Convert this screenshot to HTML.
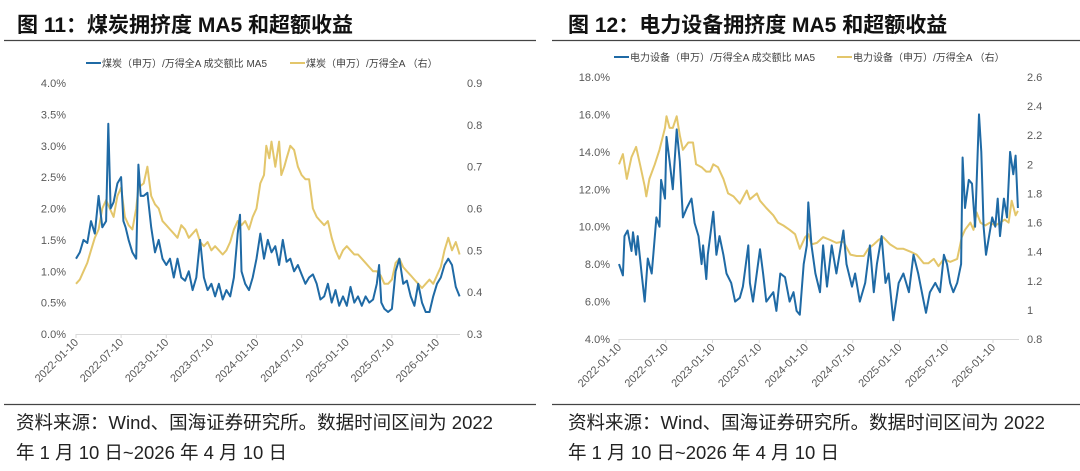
<!DOCTYPE html>
<html><head><meta charset="utf-8">
<style>
body{margin:0;width:1080px;height:471px;background:#fff;overflow:hidden;font-family:"Liberation Sans","Noto Sans CJK SC",sans-serif;}
svg{position:absolute;left:0;top:0;}
</style></head>
<body>
<svg id="svg" width="1080" height="471" viewBox="0 0 1080 471" xmlns="http://www.w3.org/2000/svg">
<text x="17" y="32" font-size="21" font-weight="bold" fill="#111" font-family="Liberation Sans, Noto Sans CJK SC, sans-serif">图 11：煤炭拥挤度 MA5 和超额收益</text>
<text x="568" y="32" font-size="21" font-weight="bold" fill="#111" font-family="Liberation Sans, Noto Sans CJK SC, sans-serif">图 12：电力设备拥挤度 MA5 和超额收益</text>
<line x1="4" y1="40.5" x2="536" y2="40.5" stroke="#444" stroke-width="1.2"/>
<line x1="552" y1="40.5" x2="1080" y2="40.5" stroke="#444" stroke-width="1.2"/>
<line x1="4" y1="404.5" x2="536" y2="404.5" stroke="#444" stroke-width="1.2"/>
<line x1="552" y1="404.5" x2="1080" y2="404.5" stroke="#444" stroke-width="1.2"/>
<g font-size="18.5" fill="#222" font-family="Liberation Sans, Noto Sans CJK SC, sans-serif">
<text x="16" y="429">资料来源：Wind、国海证券研究所。数据时间区间为 2022</text>
<text x="16" y="459">年 1 月 10 日~2026 年 4 月 10 日</text>
<text x="568" y="429">资料来源：Wind、国海证券研究所。数据时间区间为 2022</text>
<text x="568" y="459">年 1 月 10 日~2026 年 4 月 10 日</text>
</g>
<g id="left-chart"></g>
<g id="right-chart"></g>
</svg>
<script>
// shared x tick labels (month offsets from 2022-01-10)
const xTickLabels = ["2022-01-10","2022-07-10","2023-01-10","2023-07-10","2024-01-10","2024-07-10","2025-01-10","2025-07-10","2026-01-10"];
const xTickMonths = [0,6,12,18,24,30,36,42,48];

// Left chart: coal
const coalLeftTicks = [0,0.5,1,1.5,2,2.5,3,3.5,4];
const coalRightTicks = [0.3,0.4,0.5,0.6,0.7,0.8,0.9];
const coalCrowdMonths = [0,0.5,1,1.5,2,2.5,3,3.5,4,4.3,4.6,5,5.5,6,6.3,6.6,7,7.5,8,8.3,8.6,9,9.5,10,10.5,11,11.5,12,12.5,13,13.5,14,14.5,15,15.5,16,16.5,17,17.5,18,18.5,19,19.5,20,20.5,21,21.5,21.8,22,22.5,23,23.5,24,24.5,25,25.5,26,26.5,27,27.5,28,28.5,29,29.5,30,30.5,31,31.5,32,32.5,33,33.5,34,34.5,35,35.5,36,36.5,37,37.5,38,38.5,39,39.5,40,40.3,40.6,41,41.5,42,42.5,43,43.5,44,44.5,45,45.5,46,46.5,47,47.5,48,48.5,49,49.5,50,50.5,51];
const coalCrowd = [1.2,1.3,1.5,1.45,1.8,1.6,2.2,1.7,1.8,3.35,2.0,2.1,2.4,2.5,1.8,1.7,1.5,1.3,1.2,2.7,2.2,2.2,2.25,1.7,1.3,1.5,1.2,1.1,1.2,0.9,1.2,0.9,0.85,1.0,0.7,0.9,1.5,0.9,0.7,0.8,0.6,0.8,0.55,0.7,0.6,0.9,1.6,1.9,1.0,0.8,0.7,0.9,1.2,1.6,1.2,1.5,1.3,1.4,1.1,1.5,1.15,1.2,1.0,1.1,0.95,0.8,0.9,0.95,0.8,0.55,0.6,0.8,0.5,0.7,0.45,0.6,0.45,0.75,0.5,0.6,0.45,0.6,0.5,0.55,0.8,1.1,0.5,0.4,0.35,0.4,1.0,1.2,0.8,0.85,0.6,0.45,0.8,0.5,0.35,0.35,0.6,0.8,0.9,1.1,1.2,1.1,0.75,0.6];
const coalRelMonths = [0,0.5,1,1.5,2,2.5,3,3.5,4,4.5,5,5.5,6,6.5,7,7.5,8,8.3,9,9.5,10,10.5,11,11.5,12,12.5,13,13.5,14,14.5,15,15.5,16,16.5,17,17.5,18,18.5,19,19.5,20,20.5,21,21.5,22,22.5,23,23.5,24,24.5,25,25.3,25.7,26,26.5,27,27.3,27.7,28,28.5,29,29.5,30,30.5,31,31.5,32,32.5,33,33.5,34,34.5,35,35.5,36,36.5,37,37.5,38,38.5,39,39.5,40,40.5,41,41.5,42,42.5,43,43.5,44,44.5,45,45.5,46,46.5,47,47.5,48,48.5,49,49.5,50,50.5,51];
const coalRel = [0.42,0.43,0.45,0.47,0.5,0.53,0.55,0.6,0.62,0.6,0.58,0.63,0.65,0.58,0.56,0.55,0.6,0.65,0.66,0.7,0.63,0.61,0.6,0.57,0.56,0.55,0.54,0.53,0.56,0.55,0.53,0.54,0.55,0.52,0.51,0.52,0.5,0.51,0.5,0.49,0.5,0.52,0.55,0.57,0.56,0.57,0.55,0.58,0.6,0.66,0.68,0.75,0.72,0.76,0.7,0.76,0.68,0.7,0.72,0.75,0.74,0.7,0.68,0.67,0.67,0.6,0.58,0.57,0.56,0.57,0.53,0.5,0.48,0.5,0.51,0.5,0.49,0.49,0.48,0.47,0.46,0.45,0.45,0.44,0.42,0.42,0.43,0.47,0.48,0.46,0.45,0.44,0.43,0.42,0.41,0.42,0.43,0.42,0.44,0.46,0.5,0.53,0.5,0.52,0.49];

// Right chart: power equipment
const peLeftTicks = [4,6,8,10,12,14,16,18];
const peRightTicks = [0.8,1,1.2,1.4,1.6,1.8,2,2.2,2.4,2.6];
const peCrowdMonths = [0,0.5,0.7,1.1,1.6,1.8,2.2,2.4,2.9,3.3,3.7,4.2,4.4,4.8,5.2,5.4,5.9,6.1,6.5,6.9,7.4,7.8,8.2,8.7,9.3,9.7,10.2,10.6,10.8,11.2,11.4,12.1,12.5,12.9,13.4,13.8,14.4,14.9,15.5,15.9,16.6,16.8,17.2,18.1,18.5,18.9,19.8,20.2,20.7,21.3,21.9,22.4,22.8,23.2,23.7,24.1,24.3,24.7,25.2,25.8,26.2,26.7,27.3,27.9,28.8,29.2,29.9,30.3,30.9,31.6,32.2,32.7,33.1,33.7,34.2,34.6,35.2,35.9,36.5,37.2,37.8,38.4,39.1,39.4,39.9,40.6,41.2,41.7,42.1,42.5,42.9,43.4,43.9,44.1,44.4,44.9,45.3,45.7,46.2,46.5,46.8,47.1,47.5,47.9,48.3,48.6,48.9,49.4,49.8,50.2,50.6,50.9,51.2];
const peCrowd = [8,7.4,9.5,9.8,8.7,9.7,8.5,9.5,7.5,6.0,8.3,7.5,8.5,10.5,10.0,12.5,11.5,14.8,13.5,12.0,15.2,13.5,10.5,11.0,11.5,10.2,9.5,8.0,9.0,7.2,8.5,10.8,8.5,9.5,8.5,7.5,7.0,6.0,6.2,6.8,9.0,7.0,6.0,8.8,7.5,6.0,6.5,5.5,7.5,7.3,6.0,6.5,5.5,5.3,8.0,9.0,11.3,9.0,7.5,6.5,9.0,6.8,9.0,7.5,9.8,8.0,6.8,7.5,6.0,7.0,9.0,6.5,8.0,9.5,7.0,7.5,5.0,7.0,7.5,6.5,8.5,7.5,6.0,5.4,6.5,7.0,6.5,8.5,8.0,7.0,6.5,7.0,8.0,13.7,11.0,12.5,12.3,10.0,16.0,14.0,10.0,8.5,9.5,10.5,10.0,11.5,9.5,11.5,10.5,14.0,12.8,13.8,11.0];
const peRelMonths = [0,0.5,1,1.6,2.2,2.7,3.3,3.5,3.9,4.6,5.2,5.9,6.1,6.5,6.9,7.4,7.8,8.2,8.9,9.5,9.9,10.6,11.2,11.7,12.1,12.7,13.4,14,14.7,15.5,16.4,16.8,17.7,18.1,18.9,19.8,20.4,21.1,21.9,22.6,23.2,23.9,24.3,24.7,25.4,26.2,27.1,27.9,28.8,29.7,30.5,31.4,32,32.7,33.3,33.9,34.8,35.7,36.5,37.4,38.2,39.1,39.7,40.4,41,41.7,42.5,43.4,44,44.4,45.1,45.5,45.9,46.4,47,47.6,48.3,48.9,49.5,50,50.4,50.9,51.2];
const peRel = [2.0,2.07,1.9,2.05,2.12,2.0,1.85,1.78,1.9,2.0,2.1,2.25,2.33,2.25,2.25,2.33,2.2,2.1,2.15,2.15,2.0,1.98,1.95,1.95,2.0,1.98,1.9,1.8,1.78,1.73,1.82,1.76,1.8,1.75,1.7,1.65,1.6,1.58,1.55,1.52,1.42,1.5,1.52,1.45,1.46,1.5,1.48,1.46,1.47,1.38,1.37,1.37,1.42,1.45,1.48,1.5,1.45,1.42,1.42,1.4,1.38,1.32,1.32,1.35,1.3,1.35,1.33,1.35,1.5,1.55,1.6,1.55,1.67,1.6,1.58,1.6,1.58,1.6,1.62,1.6,1.75,1.65,1.68];

const NS = "http://www.w3.org/2000/svg";
const BLUE = "#1f6aa5", GOLD = "#e3c66b";
function mk(tag, attrs, parent){const e=document.createElementNS(NS,tag);for(const k in attrs)e.setAttribute(k,attrs[k]);parent.appendChild(e);return e;}

function drawChart(g, cfg){
  const xs = m => cfg.x0 + (m/48)*(cfg.x48-cfg.x0);
  const yl = v => cfg.yBot - (v-cfg.lMin)/(cfg.lMax-cfg.lMin)*(cfg.yBot-cfg.yTop);
  const yr = v => cfg.yBot - (v-cfg.rMin)/(cfg.rMax-cfg.rMin)*(cfg.yBot-cfg.yTop);
  const ax = mk("line",{x1:cfg.x0,y1:cfg.yBot+0.5,x2:cfg.xEnd,y2:cfg.yBot+0.5,stroke:"#d9d9d9","stroke-width":1},g);
  
  
  cfg.lTicks.forEach(v=>{
    const t = mk("text",{x:cfg.lLabelX,y:yl(v)+4,"text-anchor":"end","font-size":11,fill:"#595959"},g);
    t.textContent = cfg.lFmt(v);
    
    
  });
  cfg.rTicks.forEach(v=>{
    const t = mk("text",{x:cfg.rLabelX,y:yr(v)+4,"text-anchor":"start","font-size":11,fill:"#595959"},g);
    t.textContent = cfg.rFmt(v);
    
    
  });
  xTickMonths.forEach((m,i)=>{
    const x = xs(m);
    const tk = mk("line",{x1:x,y1:cfg.yBot,x2:x,y2:cfg.yBot+4,stroke:"#d9d9d9"},g);
    
    
    const t = mk("text",{x:x+3,y:cfg.yBot+9,"text-anchor":"end","font-size":11,fill:"#595959",transform:`rotate(-45 ${x+3} ${cfg.yBot+9})`},g);
    t.textContent = xTickLabels[i];
    
    
  });
  const p2 = mk("polyline",{points:cfg.relM.map((m,i)=>xs(m).toFixed(1)+","+yr(cfg.rel[i]).toFixed(1)).join(" "),fill:"none",stroke:GOLD,"stroke-width":2,"stroke-linejoin":"round"},g);
  
  
  const p1 = mk("polyline",{points:cfg.crowdM.map((m,i)=>xs(m).toFixed(1)+","+yl(cfg.crowd[i]).toFixed(1)).join(" "),fill:"none",stroke:BLUE,"stroke-width":2,"stroke-linejoin":"round"},g);
  
  
  const l1 = mk("line",{x1:cfg.legX1,y1:cfg.legY,x2:cfg.legX1+15,y2:cfg.legY,stroke:BLUE,"stroke-width":2},g);
  
  
  const t1 = mk("text",{x:cfg.legX1+16,y:cfg.legY+4,"font-size":10,fill:"#404040"},g);
  t1.textContent = cfg.leg1;
  
  
  const l2 = mk("line",{x1:cfg.legX2,y1:cfg.legY,x2:cfg.legX2+15,y2:cfg.legY,stroke:GOLD,"stroke-width":2},g);
  
  
  const t2 = mk("text",{x:cfg.legX2+16,y:cfg.legY+4,"font-size":10,fill:"#404040"},g);
  t2.textContent = cfg.leg2;
  
  
}

drawChart(document.getElementById("left-chart"),{
  prefix:"coal", x0:76, x48:437, xEnd:460, yTop:83, yBot:334,
  lMin:0,lMax:4,rMin:0.3,rMax:0.9,lTicks:coalLeftTicks,rTicks:coalRightTicks,
  lFmt:v=>v.toFixed(1)+"%", rFmt:v=>v.toFixed(1), lLabelX:66, rLabelX:467,
  crowdM:coalCrowdMonths,crowd:coalCrowd,relM:coalRelMonths,rel:coalRel,
  legY:63, legX1:86, legX2:290,
  leg1:"煤炭（申万）/万得全A 成交额比 MA5", leg2:"煤炭（申万）/万得全A （右）"
});
drawChart(document.getElementById("right-chart"),{
  prefix:"power-equipment", x0:619, x48:993, xEnd:1019, yTop:77, yBot:339,
  lMin:4,lMax:18,rMin:0.8,rMax:2.6,lTicks:peLeftTicks,rTicks:peRightTicks,
  lFmt:v=>v.toFixed(1)+"%", rFmt:v=>String(Math.round(v*10)/10), lLabelX:610, rLabelX:1027,
  crowdM:peCrowdMonths,crowd:peCrowd,relM:peRelMonths,rel:peRel,
  legY:57, legX1:614, legX2:837,
  leg1:"电力设备（申万）/万得全A 成交额比 MA5", leg2:"电力设备（申万）/万得全A （右）"
});
</script>
</body></html>
